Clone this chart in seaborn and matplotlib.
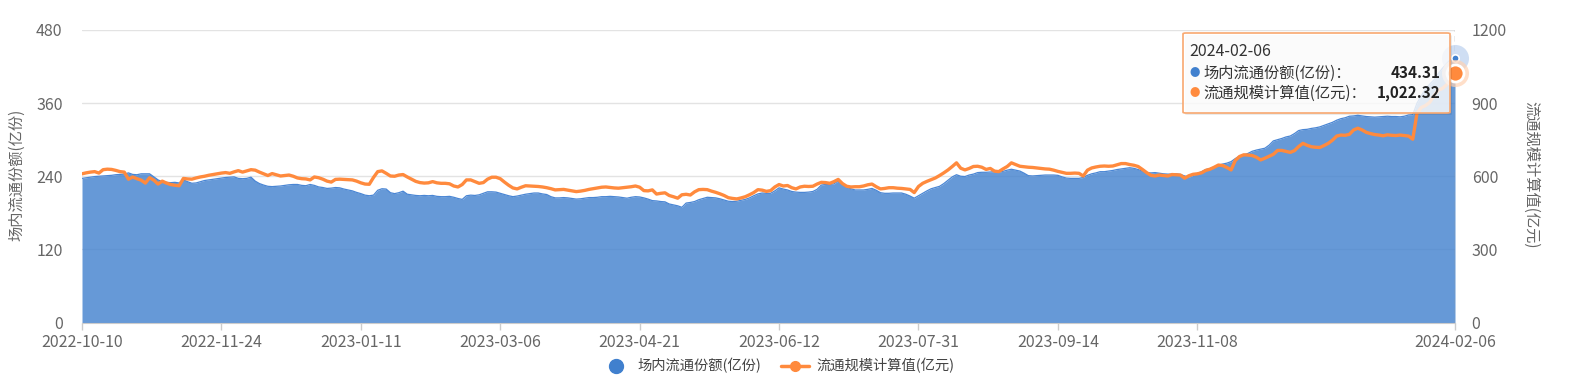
import numpy as np
import pandas as pd
import matplotlib
matplotlib.use("Agg")
import matplotlib.pyplot as plt
import seaborn as sns
from matplotlib.lines import Line2D
from matplotlib.patches import FancyBboxPatch

# ---------------- data ----------------
shares = [236.5, 237.5, 238.5, 239.5, 240, 240.5, 241, 241.5, 242.5, 243,
          243.5, 245.5, 243, 242.5, 244, 244, 244, 239, 234, 231,
          230, 229.5, 230, 229, 234, 231, 228.5, 229, 231, 233,
          234, 235, 236, 237, 238, 238.5, 239, 236.5, 236, 236.5,
          238.5, 232, 228, 225.5, 223.5, 223, 223.5, 224, 225, 226,
          226.5, 226.5, 225, 224.5, 226.5, 225, 222.5, 221.5, 220, 220.5,
          221.5, 221, 219, 217.5, 216, 213.5, 211.5, 209, 208, 209,
          217, 219.5, 219, 213, 211.5, 213, 215.5, 210.5, 209.5, 208.5,
          208, 208.5, 208, 208.5, 207, 206.5, 206.5, 207, 205.5, 203.5,
          202, 208, 209, 208.5, 209.5, 212, 214.5, 214.5, 214, 212,
          210, 208, 206.5, 207.5, 209, 210.5, 211.5, 212.5, 212.5, 211,
          210, 206.5, 204.5, 204.5, 205, 204.5, 203.5, 202.5, 203, 204,
          205, 205, 205.5, 206.5, 206.5, 207, 206.5, 206, 205, 204,
          205.5, 206.5, 206, 204.5, 202.5, 200, 199.5, 198.5, 198, 194.5,
          193, 191.5, 189, 196, 197, 198.5, 201.5, 203.5, 205.5, 205,
          204.5, 203, 201, 199, 198.5, 199, 200.5, 202, 204.5, 208,
          211, 212.5, 212, 212, 216, 221, 219, 217.5, 215, 214,
          213.5, 213.5, 214, 215, 218.5, 225.5, 226.5, 226.5, 227.5, 232.5,
          227, 222, 219.5, 217.5, 217.5, 217.5, 218.5, 220, 217, 213,
          212, 212, 212.5, 212.5, 212.5, 210.5, 207.5, 204, 208, 212,
          216, 219.5, 221.5, 223.5, 228, 233.5, 239, 242.5, 240, 239.5,
          242, 243.5, 246, 246.5, 246.5, 247, 247.5, 247, 248, 250,
          251.5, 250, 248.5, 245, 241, 240.5, 241, 241.5, 242, 242,
          242, 241.5, 239, 237, 236.5, 236.5, 236.5, 238, 241.5, 244,
          245.5, 247.5, 247.5, 248.5, 249.5, 251, 252, 253, 254, 253,
          251, 248.5, 246, 245.5, 246, 245, 244, 243.5, 243.5, 244,
          243, 240.5, 238.5, 241.5, 244.5, 247.5, 251, 252.5, 255, 258,
          260, 261.5, 264, 269, 273, 275, 277.5, 281, 283, 284.5,
          286, 291, 298, 300, 302, 304.5, 306, 310, 315, 316.5,
          317, 318.5, 319.5, 321, 323.5, 326, 328.5, 332, 334.5, 336,
          338.5, 339, 340, 339, 338, 337.5, 337, 337.5, 338, 338.5,
          338, 338, 337.5, 338.5, 340.5, 341, 360, 372, 383, 391,
          398, 408, 417, 425, 432, 434.31]

scale = [610, 614, 617, 619, 613, 627, 629, 628, 624, 619,
         617, 588, 597, 590, 584, 572, 594, 584, 568, 580,
         572, 566, 563, 561, 591, 589, 588, 593, 597, 600,
         604, 607, 610, 613, 615, 612, 618, 623, 617, 622,
         627, 625, 617, 610, 603, 611, 606, 601, 603, 605,
         600, 593, 590, 589, 585, 597, 594, 588, 580, 576,
         587, 588, 587, 586, 585, 580, 573, 568, 567, 595,
         619, 622, 612, 601, 600, 605, 607, 597, 588, 579,
         574, 572, 573, 578, 573, 571, 571, 569, 560, 556,
         566, 585, 585, 578, 571, 574, 588, 596, 596, 590,
         576, 563, 552, 548, 555, 561, 560, 559, 558, 556,
         553, 549, 544, 545, 546, 543, 540, 537, 539, 542,
         546, 549, 552, 555, 556, 554, 552, 551, 553, 555,
         557, 560, 555, 541, 540, 544, 527, 530, 532, 521,
         516, 510, 524, 526, 523, 536, 545, 546, 545, 539,
         534, 528, 521, 512, 509, 507, 511, 516, 524, 533,
         545, 543, 538, 541, 556, 566, 560, 562, 553, 548,
         556, 559, 558, 559, 568, 575, 574, 571, 578, 587,
         570, 559, 556, 557, 557, 560, 565, 568, 557, 548,
         550, 553, 553, 551, 550, 548, 546, 533, 558, 571,
         579, 586, 593, 603, 614, 626, 640, 655, 633, 626,
         632, 640, 641, 637, 628, 632, 621, 619, 630, 640,
         655, 648, 641, 639, 637, 636, 634, 632, 630, 629,
         625, 620, 616, 612, 612, 613, 612, 601, 625, 634,
         638, 641, 642, 641, 642, 647, 652, 652, 648, 645,
         640, 628, 615, 604, 601, 605, 603, 601, 607, 606,
         605, 592, 602, 608, 610, 614, 624, 629, 637, 646,
         644, 636, 626, 665, 681, 688, 687, 685, 678, 667,
         674, 682, 690, 706, 706, 702, 698, 705, 722, 735,
         727, 721, 719, 718, 726, 735, 748, 765, 769, 768,
         772, 790, 797, 790, 780, 775, 771, 769, 766, 770,
         768, 767, 769, 767, 765, 752, 858, 882, 890, 903,
         930, 953, 960, 975, 995, 1022.32]

x_tick_labels = ["2022-10-10", "2022-11-24", "2023-01-11", "2023-03-06", "2023-04-21",
                 "2023-06-12", "2023-07-31", "2023-09-14", "2023-11-08", "2024-02-06"]
x_tick_index = [0, 33, 66, 99, 132, 165, 198, 231, 264, 325]
left_ticks = [0, 120, 240, 360, 480]
right_ticks = [0, 300, 600, 900, 1200]
series_names = ["场内流通份额(亿份)", "流通规模计算值(亿元)"]

# ---------------- style ----------------
sns.set_style("white")
plt.rcParams["font.family"] = ["Noto Sans CJK SC", "DejaVu Sans"]

W, H = 1583, 389
def fx(x):
    return x / W
def fy(y):
    return 1 - y / H

BLUE = "#4080CE"
ORANGE = "#FF8A3D"
TXT = "#666666"
FS = 11.5

df = pd.DataFrame({"idx": np.arange(len(shares)), "shares": shares, "scale": scale})

fig = plt.figure(figsize=(W / 100, H / 100), dpi=100)
ax = fig.add_axes([fx(82), fy(322.5), (1455 - 82) / W, 292.5 / H])

ax.fill_between(df["idx"], df["shares"], color=BLUE, alpha=0.8, lw=0, zorder=2)
sns.lineplot(data=df, x="idx", y="shares", ax=ax, color="#4a86d4", lw=0.9, zorder=3)
ax.set_xlim(0, len(shares) - 1)
ax.set_ylim(0, 480)
ax.set_yticks(left_ticks)
ax.grid(axis="y", color="#E3E3E3", lw=1)
ax.grid(axis="x", visible=False)
ax.set_axisbelow(True)
ax.set_xticks(x_tick_index)
ax.set_xticklabels(x_tick_labels)
ax.set_xlabel("")
ax.set_ylabel("")
for s in ["left", "right", "top"]:
    ax.spines[s].set_visible(False)
ax.spines["bottom"].set_color("#CCCCCC")
ax.tick_params(axis="y", length=0, pad=14, labelcolor=TXT, labelsize=FS)
ax.tick_params(axis="x", length=5, width=1, color="#CCCCCC", pad=3,
               labelcolor=TXT, labelsize=FS, bottom=True)

ax.axvline(len(shares) - 1, color="#999999", lw=1, ls=(0, (4, 3)), zorder=4)

ax2 = ax.twinx()
sns.lineplot(data=df, x="idx", y="scale", ax=ax2, color=ORANGE, lw=2.4, zorder=3)
ax2.set_ylim(0, 1200)
ax2.set_yticks(right_ticks)
ax2.set_ylabel("")
ax2.set_xlabel("")
for s in ["left", "right", "top", "bottom"]:
    ax2.spines[s].set_visible(False)
ax2.tick_params(axis="y", length=0, pad=12, labelcolor=TXT, labelsize=FS)
ax2.grid(False)

# highlighted end points
last = len(shares) - 1
ax.scatter([last], [shares[-1]], s=380, color="#a9c4ea", alpha=0.55, lw=0, zorder=5, clip_on=False)
ax.scatter([last], [shares[-1]], s=28, color=BLUE, edgecolor="white", lw=1.2, zorder=6, clip_on=False)
ax2.scatter([last], [scale[-1]], s=380, color="#ffd2b3", alpha=0.7, lw=0, zorder=5, clip_on=False)
ax2.scatter([last], [scale[-1]], s=150, color=ORANGE, edgecolor="white", lw=2, zorder=6, clip_on=False)

# axis titles
fig.text(fx(17), fy(175), series_names[0], rotation=90, ha="center", va="center",
         color=TXT, fontsize=11)
fig.text(fx(1531), fy(175), series_names[1], rotation=270, ha="center", va="center",
         color=TXT, fontsize=11)

# tooltip
shadow = FancyBboxPatch((fx(1185), fy(115)), (1450 - 1183) / W, 80 / H,
                        boxstyle="round,pad=0,rounding_size=0.002", transform=fig.transFigure,
                        facecolor=(0, 0, 0, 0.08), edgecolor="none", zorder=9)
box = FancyBboxPatch((fx(1183), fy(113)), (1450 - 1183) / W, 80 / H,
                     boxstyle="round,pad=0,rounding_size=0.002", transform=fig.transFigure,
                     facecolor=(1, 1, 1, 0.82), edgecolor="#F8A870", lw=1.2, zorder=10)
fig.patches.extend([shadow, box])
fig.text(fx(1189), fy(52), x_tick_labels[-1], ha="left", va="center", color="#333333",
         fontsize=11.5, zorder=11)
fig.text(fx(1195), fy(73), "●", ha="center", va="center", color=BLUE, fontsize=7.5, zorder=11)
fig.text(fx(1203), fy(73), series_names[0] + "：", ha="left", va="center", color="#333333",
         fontsize=11, zorder=11)
fig.text(fx(1441), fy(73), f"{shares[-1]:,.2f}", ha="right", va="center", color="#222222",
         fontsize=11, fontweight="bold", zorder=11)
fig.text(fx(1195), fy(93), "●", ha="center", va="center", color=ORANGE, fontsize=7.5, zorder=11)
fig.text(fx(1203), fy(93), series_names[1] + "：", ha="left", va="center", color="#333333",
         fontsize=11, zorder=11)
fig.text(fx(1441), fy(93), f"{scale[-1]:,.2f}", ha="right", va="center", color="#222222",
         fontsize=11, fontweight="bold", zorder=11)

# legend
handles = [Line2D([0], [0], marker="o", color=BLUE, ls="none", markersize=10),
           Line2D([0], [0], color=ORANGE, lw=2.5, marker="o", markersize=7)]
fig.legend(handles, series_names, loc="center", bbox_to_anchor=(fx(778), fy(366)), ncol=2,
           frameon=False, fontsize=10.3, labelcolor="#444444", handlelength=2.0,
           handletextpad=0.5, columnspacing=1.4)

fig.savefig("out.png", dpi=100)
